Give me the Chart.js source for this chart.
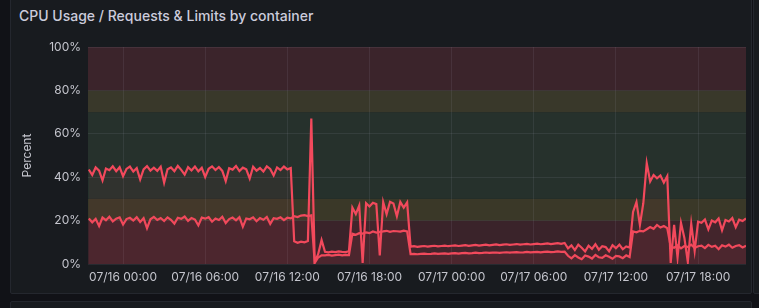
<!DOCTYPE html>
<html>
<head>
<meta charset="utf-8">
<script src="https://cdn.jsdelivr.net/npm/chart.js@4/dist/chart.umd.min.js"></script>
<style>
  html, body { margin: 0; padding: 0; background: #111217; width: 759px; height: 308px; overflow: hidden; }
  .panel { position: absolute; background: #181b1f; border: 1px solid #24272e; border-radius: 2px; box-sizing: border-box; }
  #title { position: absolute; left: 19px; top: 7px; font: 500 14px Inter, "Noto Sans", sans-serif; color: #ccccdc; white-space: nowrap; }
  #chart { position: absolute; left: 0; top: 0; }
</style>
</head>
<body>
<div class="panel" style="left:10px; top:-2px; width:742px; height:296px;"></div>
<div class="panel" style="left:10px; top:301px; width:742px; height:20px;"></div>
<div class="panel" style="left:753px; top:-2px; width:20px; height:296px;"></div>
<div id="title">CPU Usage / Requests &amp; Limits by container</div>
<canvas id="chart" width="759" height="308"></canvas>
<script>
// hours relative to 07/16 00:00, one sample every 15 min
var startHour = -2.5;
var stepHours = 0.25;
var xMin = -2.56, xMax = 45.5;
var xTickHours = [0, 6, 12, 18, 24, 30, 36, 42];
var yTicks = [0, 20, 40, 60, 80, 100];

// threshold regions (percent)
var bandFrom = [0, 20, 30, 70, 80];
var bandTo   = [20, 30, 70, 80, 100];
var bandColors = ['#3a232a', '#3a3828', '#26312c', '#39382a', '#3b242b'];

var seriesA = [
  // 0-59
  43.5, 41, 44.5, 43, 38.5, 44, 43.2, 45, 42.8, 44.6,
  40.5, 43.8, 44.9, 42.6, 44.2, 39, 43.6, 45.1, 43, 44.4,
  42.9, 44.8, 37.5, 43.7, 44.5, 42.8, 45.2, 43.4, 41.2, 44.6,
  43.1, 44.9, 42.7, 44.3, 40.1, 43.9, 45, 43.3, 44.7, 42.9,
  38.2, 44.1, 43.5, 45.2, 42.8, 44.4, 43.6, 39.4, 44.8, 43,
  44.2, 42.6, 45, 43.8, 40.8, 44.5, 43.3, 44.9, 43.6, 44.2,
  // 60-68
  10.5, 9.8, 10.3, 10, 10.6, 67, 1, 4.5, 11,
  // 69-76
  5.6, 5.4, 5.7, 5.5, 5.8, 5.6, 5.5, 5.9,
  // 77-85
  26, 23, 27, 0.5, 28, 26.5, 28.2, 27.6, 4,
  // 86-93
  28.5, 23, 28.7, 27.9, 22, 28.6, 26, 28.4,
  // 94-139
  8.0, 8.2, 7.9, 8.1, 8.3, 8.0, 8.2, 8.4, 8.1, 8.3,
  8.5, 8.2, 8.4, 8.6, 8.3, 8.5, 8.7, 8.4, 8.6, 8.8,
  8.5, 8.7, 8.9, 8.6, 8.8, 9.0, 8.7, 8.9, 9.1, 8.8,
  9.0, 9.2, 8.9, 9.1, 9.3, 9.0, 9.2, 9.4, 9.1, 9.3,
  9.5, 9.2, 9.4, 9.6, 9.3, 9.7,
  // 140-158
  7.2, 8.6, 6.4, 8.9, 7.5, 5.8, 8.4, 7.0, 9.1, 6.6,
  8.2, 7.8, 5.9, 8.7, 7.3, 8.9, 6.8, 8.1, 7.6,
  // 159-169
  24, 28.5, 18, 28, 46.5, 38, 41, 39.5, 40.8, 37.5, 40.5,
  // 170-192
  0.5, 18, 3, 19, 12, 1, 18.5, 6, 19.5,
  19, 20.5, 16, 20, 19.2, 21, 15.5, 20.3, 19.6, 21.2, 17, 20.4, 19.8, 21
];

var seriesB = [
  // 0-59
  21, 19.2, 20.8, 17.5, 21.4, 20.2, 21.8, 19.6, 20.9, 21.5,
  18.2, 20.7, 21.3, 20, 21.6, 19.4, 21.1, 16.5, 20.6, 21.7,
  20.3, 21.2, 19.8, 21.5, 20.4, 18.6, 21.3, 20.8, 21.9, 19.9,
  21.2, 20.5, 17.8, 21.4, 20.9, 21.6, 19.5, 21, 20.3, 21.8,
  18.9, 20.7, 21.4, 20.1, 21.6, 17.2, 21, 20.6, 21.5, 19.7,
  21.2, 20.4, 21.7, 18.5, 21.1, 20.8, 21.5, 20.2, 21.3, 21,
  // 60-68
  22, 21.6, 22.3, 22.5, 22.1, 22.4, 0.5, 3, 4,
  // 69-76
  4, 4.2, 3.9, 4.1, 4.3, 4, 4.2, 4.1,
  // 77-85
  14, 13.5, 14.2, 14, 14.6, 14.2, 15, 14.5, 14.8,
  // 86-93
  15, 15.3, 14.8, 15.2, 15.1, 14.9, 15.4, 15,
  // 94-139
  4.6, 4.7, 4.5, 4.7, 4.8, 4.6, 4.7, 4.9, 4.7, 4.8,
  4.9, 4.7, 4.9, 5.0, 4.8, 5.0, 5.1, 4.9, 5.0, 5.2,
  5.0, 5.1, 5.3, 5.1, 5.2, 5.3, 5.1, 5.3, 5.4, 5.2,
  5.4, 5.5, 5.3, 5.4, 5.6, 5.4, 5.5, 5.6, 5.4, 5.6,
  5.7, 5.5, 5.6, 5.8, 5.6, 5.7,
  // 140-158
  3.8, 2.6, 4.1, 3.0, 2.2, 3.9, 3.4, 2.5, 4.2, 3.1,
  2.8, 4.0, 3.3, 2.4, 3.7, 3.5, 2.7, 4.0, 3.2,
  // 159-169
  15, 14.6, 15.3, 15, 16, 17, 16.2, 18, 16.8, 17.5, 16.5,
  // 170-192
  8, 7.5, 8.6, 7.2, 8.3, 7.8, 8.9, 7.4, 8.2,
  8.5, 7.3, 8.8, 7.9, 8.4, 6.8, 8.6, 8, 8.9, 7.5, 8.3, 8.7, 7.6, 8.4
];

function toPoints(values) {
  return values.map(function(v, i) {
    return { x: startHour + i * stepHours, y: v };
  });
}

function pad(n) { return n < 10 ? '0' + n : '' + n; }
function formatHour(h) {
  var day = 16 + Math.floor(h / 24);
  var hh = ((h % 24) + 24) % 24;
  return '07/' + pad(day) + ' ' + pad(hh) + ':00';
}

// 阈值背景
var bandPlugin = {
  id: 'bands',
  beforeDraw: function(chart) {
    var ctx = chart.ctx;
    var area = chart.chartArea;
    var y = chart.scales.y;
    ctx.save();
    for (var i = 0; i < bandFrom.length; i++) {
      var top = y.getPixelForValue(bandTo[i]);
      var bottom = y.getPixelForValue(bandFrom[i]);
      ctx.fillStyle = bandColors[i];
      ctx.fillRect(area.left, top, area.right - area.left, bottom - top);
    }
    ctx.restore();
  }
};

var lineColor = '#F2495C';
var fillColor = 'rgba(242, 73, 92, 0.055)';
var textColor = '#c4c5cd';
var gridColor = 'rgba(204, 204, 220, 0.09)';

var chart = new Chart(document.getElementById('chart').getContext('2d'), {
  type: 'line',
  data: {
    datasets: [
      { label: 'A', data: toPoints(seriesA), borderColor: lineColor, backgroundColor: fillColor, borderWidth: 2.2, pointRadius: 0, fill: 'origin', tension: 0 },
      { label: 'B', data: toPoints(seriesB), borderColor: lineColor, backgroundColor: fillColor, borderWidth: 2.2, pointRadius: 0, fill: 'origin', tension: 0 }
    ]
  },
  options: {
    responsive: false,
    animation: false,
    layout: { padding: { left: 20, right: 13, top: 47, bottom: 20 } },
    plugins: { legend: { display: false }, tooltip: { enabled: false } },
    scales: {
      x: {
        type: 'linear',
        min: xMin,
        max: xMax,
        afterBuildTicks: function(scale) {
          scale.ticks = xTickHours.map(function(h) { return { value: h }; });
        },
        afterFit: function(scale) { scale.height = 24; },
        grid: { color: gridColor, drawTicks: false },
        border: { display: false },
        ticks: {
          color: textColor,
          font: { family: 'Inter', size: 12 },
          padding: 6,
          maxRotation: 0,
          autoSkip: false,
          callback: function(v) { return formatHour(v); }
        }
      },
      y: {
        min: 0,
        max: 100,
        afterBuildTicks: function(scale) {
          scale.ticks = yTicks.map(function(v) { return { value: v }; });
        },
        afterFit: function(scale) { scale.width = 68; },
        grid: { color: gridColor, drawTicks: false },
        border: { display: false },
        title: { display: true, text: 'Percent', color: textColor, font: { family: 'Inter', size: 12 }, padding: { top: 0, bottom: 0 } },
        ticks: {
          color: textColor,
          font: { family: 'Inter', size: 12 },
          padding: 7,
          callback: function(v) { return v + '%'; }
        }
      }
    }
  },
  plugins: [bandPlugin]
});
</script>
</body>
</html>
